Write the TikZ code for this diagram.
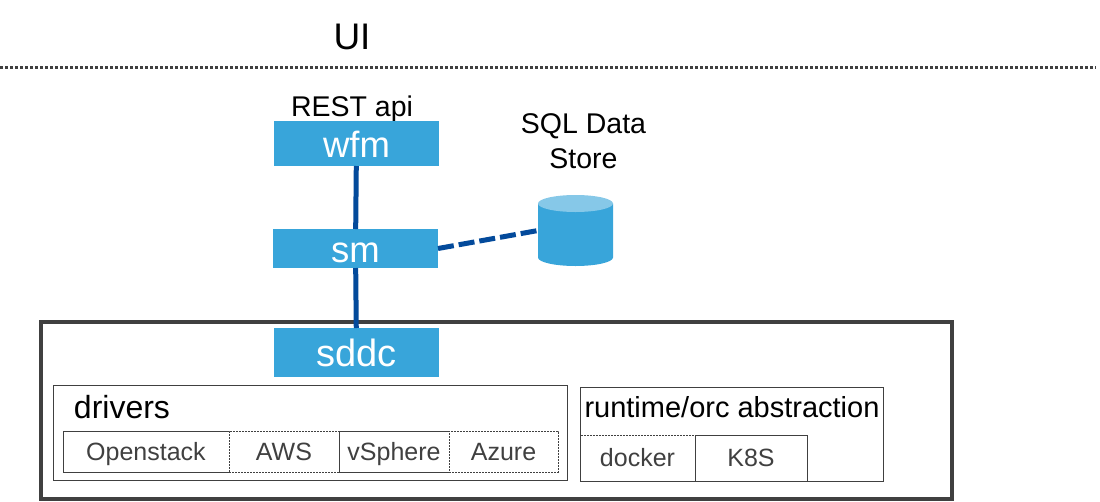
\documentclass[tikz,border=0pt]{standalone}
\usepackage{fontspec}
\setmainfont{Liberation Sans}
\usepackage{tikz}
\definecolor{bluebox}{HTML}{38A5DA}
\definecolor{bluetop}{HTML}{86C8E8}
\definecolor{blueline}{HTML}{034A9B}
\definecolor{greyline}{HTML}{404040}
\newcommand{\fpx}[1]{\fontsize{#1}{35}\selectfont}
\tikzstyle{modulo} = [rectangle, fill=bluebox, text=white, minimum width=165pt, inner sep=0pt, outer sep=0pt, text height=27pt, text depth=0pt]
\tikzstyle{cella} = [rectangle, draw=greyline, line width=1pt, text=greyline, inner sep=0pt, outer sep=0pt, font=\fpx{25}, text height=17.5pt, text depth=0pt]
\tikzstyle{puntata} = [cella, dash pattern=on 2pt off 1pt]
\tikzstyle{riquadro} = [rectangle, draw=greyline, line width=1pt, inner sep=0pt, outer sep=0pt]
\tikzstyle{titolo} = [inner sep=0pt, font=\fpx{28.5}]
\tikzstyle{link} = [blueline, line width=5pt]

\begin{document}
\begin{tikzpicture}[x=1pt,y=-1pt]
	\useasboundingbox (0,0) rectangle (1100,501);
	\node[titolo, font=\fpx{37}, anchor=base] (ui) at (352,49) {UI};
	\coordinate (lineL) at (0,67);
	\coordinate (lineR) at (1096,67);
	\draw[greyline, line width=3pt, dash pattern=on 3pt off 2pt] (lineL) -- (lineR);
	\node[titolo, anchor=base] (rest) at (352,116) {REST api};
	\node[titolo, align=center] (sql) at (583.5,141) {SQL Data\\Store};
	% outer frame
	\node[rectangle, draw=greyline, line width=3.5pt, minimum width=911pt, minimum height=177pt, inner sep=0pt] (frame) at (496.5,410.5) {};
	% services
	\node[modulo, minimum height=45pt, font=\fpx{36.5}] (wfm) at (356.5,143.5) {wfm};
	\node[modulo, minimum height=39pt, font=\fpx{36.5}] (sm) at (355.5,248.5) {sm};
	\node[modulo, minimum height=49pt, font=\fpx{38}] (sddc) at (356.5,352.5) {sddc};
	% data store
	\node[rectangle, minimum width=75pt, minimum height=71pt, inner sep=0pt, outer sep=0pt] (db) at (575.5,230.5) {};
	\fill[bluebox] ([yshift=-8.5pt]db.north west) -- ([yshift=8.5pt]db.south west) arc[start angle=180, end angle=360, x radius=37.5pt, y radius=8.5pt] -- ([yshift=-8.5pt]db.north east) -- cycle;
	\fill[bluetop] ([yshift=-8.5pt]db.north) ellipse[x radius=37.5pt, y radius=8.5pt];
	\draw[link] (wfm) -- (sm);
	\draw[link] (sm) -- (sddc);
	\draw[link, dash pattern=on 16pt off 5pt] (sm.east) -- (db.west);
	% drivers
	\node[riquadro, minimum width=514pt, minimum height=95pt] (drivers) at (310,432.5) {};
	\node[titolo, font=\fpx{32}, anchor=base] (driverslabel) at (122,418) {drivers};
	\node[cella, minimum width=166pt, minimum height=41pt] (openstack) at (146,451.5) {Openstack};
	\node[puntata, fill=white, minimum width=110pt, minimum height=41pt] (aws) at (284,451.5) {AWS};
	\node[cella, fill=white, minimum width=110pt, minimum height=41pt] (vsphere) at (394,451.5) {vSphere};
	\node[puntata, fill=white, minimum width=109pt, minimum height=41pt] (azure) at (503.5,451.5) {Azure};
	% runtime
	\node[riquadro, minimum width=303.5pt, minimum height=94pt] (runtime) at (731.75,434) {};
	\node[titolo, font=\fpx{29}, anchor=base] (runtimelabel) at (732,417) {runtime/orc abstraction};
	\node[puntata, minimum width=115pt, minimum height=46pt] (docker) at (637.5,458) {docker};
	\node[cella, minimum width=112pt, minimum height=46pt] (k8s) at (751,458) {K8S};
\end{tikzpicture}
\end{document}
